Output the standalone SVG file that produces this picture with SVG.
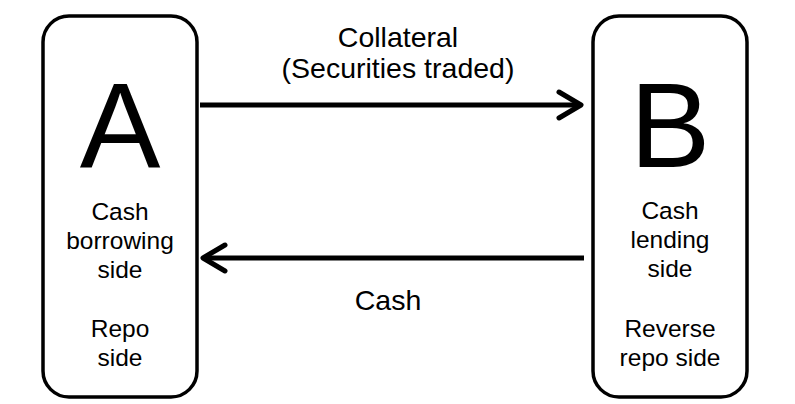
<svg xmlns="http://www.w3.org/2000/svg" width="795" height="404" viewBox="0 0 795 404">
<defs>
<style>
.box{fill:#fff;stroke:#000;stroke-width:3.5}
.big{font-family:"Liberation Sans",Arial,sans-serif;font-size:121px;text-anchor:middle;fill:#000}
.t{font-family:"Liberation Sans",Arial,sans-serif;font-size:24.5px;text-anchor:middle;fill:#000}
.lbl{font-family:"Liberation Sans",Arial,sans-serif;font-size:28.5px;text-anchor:middle;fill:#000}
.ln{stroke:#000;stroke-width:5;fill:none}
.hd{stroke:#000;stroke-width:5;fill:none;stroke-linecap:round;stroke-linejoin:round}
</style>
</defs>
<rect width="795" height="404" fill="#fff"/>
<g id="nodeA">
<rect class="box" x="43" y="16" width="154" height="381" rx="26"/>
<text class="big" x="120" y="167">A</text>
<text class="t" x="120" y="220">Cash</text>
<text class="t" x="120" y="249">borrowing</text>
<text class="t" x="120" y="278">side</text>
<text class="t" x="120" y="337">Repo</text>
<text class="t" x="120" y="366">side</text>
</g>
<g id="nodeB">
<rect class="box" x="593" y="16" width="154" height="381" rx="26"/>
<text class="big" x="670" y="167">B</text>
<text class="t" x="670" y="219">Cash</text>
<text class="t" x="670" y="248">lending</text>
<text class="t" x="670" y="277">side</text>
<text class="t" x="670" y="337">Reverse</text>
<text class="t" x="670" y="366">repo side</text>
</g>
<g id="connectors">
<line class="ln" x1="200" y1="105" x2="580" y2="105"/>
<polyline class="hd" points="559,92 581,105 559,118"/>
<text class="lbl" x="398" y="47">Collateral</text>
<text class="lbl" x="398" y="78">(Securities traded)</text>
<line class="ln" x1="584" y1="258" x2="205" y2="258"/>
<polyline class="hd" points="225,245 203,258 225,271"/>
<text class="lbl" x="388" y="310">Cash</text>
</g>
</svg>
